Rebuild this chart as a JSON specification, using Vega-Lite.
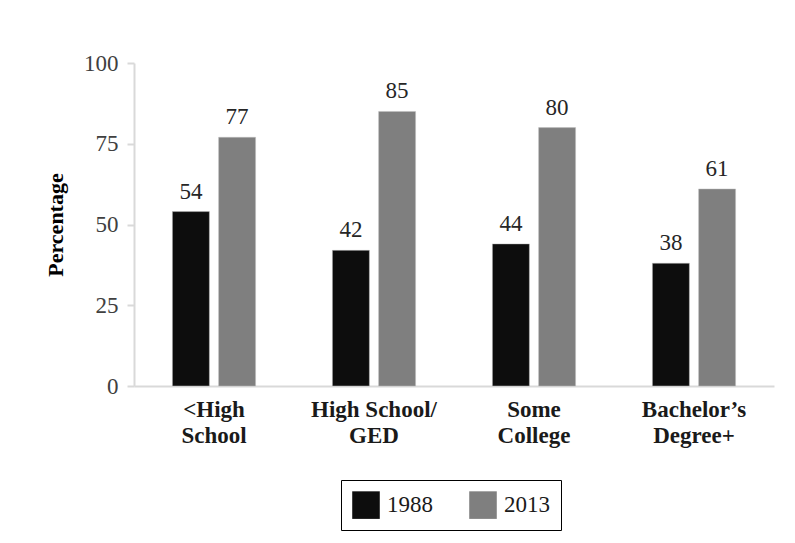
{
  "$schema": "https://vega.github.io/schema/vega-lite/v6.json",
  "width": 640,
  "height": 323,
  "autosize": {"type": "none"},
  "padding": {"left": 134, "top": 63, "right": 21, "bottom": 157},
  "background": "#ffffff",
  "config": {
    "view": {"stroke": null},
    "font": "Liberation Serif, Times New Roman, serif"
  },
  "data": {
    "values": [
      {"education": "<High\nSchool", "year": "1988", "pct": 54},
      {"education": "<High\nSchool", "year": "2013", "pct": 77},
      {"education": "High School/\nGED", "year": "1988", "pct": 42},
      {"education": "High School/\nGED", "year": "2013", "pct": 85},
      {"education": "Some\nCollege", "year": "1988", "pct": 44},
      {"education": "Some\nCollege", "year": "2013", "pct": 80},
      {"education": "Bachelor’s\nDegree+", "year": "1988", "pct": 38},
      {"education": "Bachelor’s\nDegree+", "year": "2013", "pct": 61}
    ]
  },
  "encoding": {
    "x": {
      "field": "education",
      "type": "nominal",
      "sort": null,
      "scale": {"paddingInner": 0.48, "paddingOuter": 0.24},
      "axis": {
        "title": null,
        "labelAngle": 0,
        "labelExpr": "split(datum.label, '\\n')",
        "labelFont": "Liberation Serif, Times New Roman, serif",
        "labelFontWeight": "bold",
        "labelFontSize": 23,
        "labelLineHeight": 26,
        "labelColor": "#1a1a1a",
        "labelPadding": 12,
        "ticks": false,
        "domainColor": "#d9d9d9",
        "domainWidth": 2
      }
    },
    "xOffset": {"field": "year", "type": "nominal", "scale": {"paddingInner": 0.2}},
    "y": {
      "field": "pct",
      "type": "quantitative",
      "scale": {"domain": [0, 100]},
      "axis": {
        "title": "Percentage",
        "titleFont": "Liberation Serif, Times New Roman, serif",
        "titleFontSize": 22,
        "titleFontWeight": "bold",
        "titleColor": "#000000",
        "titlePadding": 16,
        "values": [0, 25, 50, 75, 100],
        "grid": false,
        "labelFont": "Liberation Serif, Times New Roman, serif",
        "labelFontSize": 23,
        "labelColor": "#404040",
        "labelPadding": 9,
        "tickColor": "#d9d9d9",
        "tickSize": 7,
        "tickWidth": 2,
        "domainColor": "#d9d9d9",
        "domainWidth": 2
      }
    }
  },
  "layer": [
    {
      "mark": {"type": "bar", "stroke": "#bfbfbf", "strokeWidth": 0.5},
      "encoding": {
        "color": {
          "field": "year",
          "type": "nominal",
          "scale": {"domain": ["1988", "2013"], "range": ["#0d0d0d", "#7f7f7f"]},
          "legend": {
            "title": null,
            "orient": "none",
            "direction": "horizontal",
            "legendX": 207,
            "legendY": 417,
            "strokeColor": "#000000",
            "padding": 11,
            "symbolType": "square",
            "symbolSize": 760,
            "symbolStrokeWidth": 0,
            "labelFont": "Liberation Serif, Times New Roman, serif",
            "labelFontSize": 23,
            "labelColor": "#1a1a1a",
            "labelOffset": 7,
            "columnPadding": 36
          }
        }
      }
    },
    {
      "mark": {"type": "text", "baseline": "alphabetic", "dy": -13, "fontSize": 23, "font": "Liberation Serif, Times New Roman, serif", "color": "#262626"},
      "encoding": {
        "text": {"field": "pct", "type": "quantitative"}
      }
    }
  ]
}
